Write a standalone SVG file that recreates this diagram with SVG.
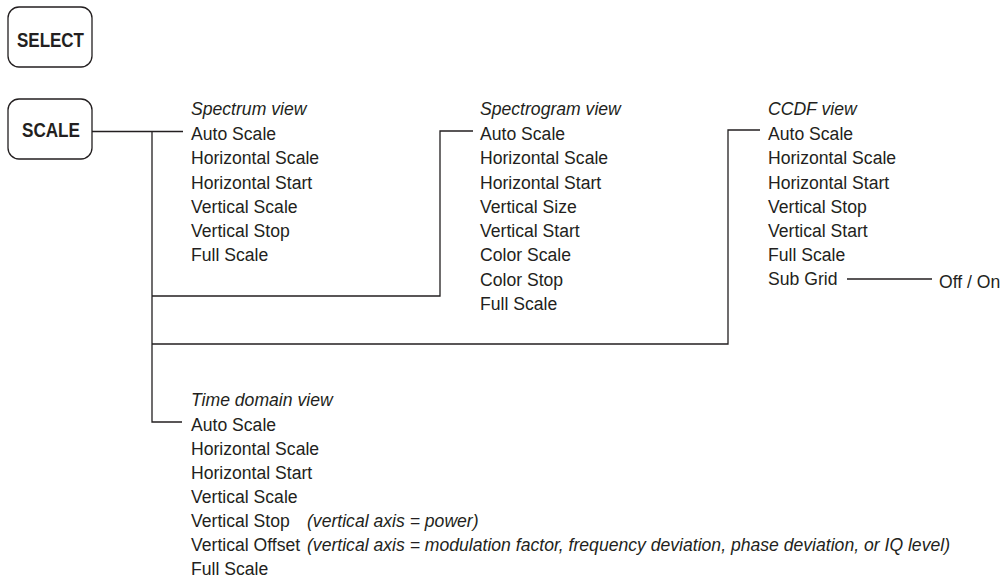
<svg xmlns="http://www.w3.org/2000/svg" width="1000" height="579" viewBox="0 0 1000 579">
<style>
.t{font-family:"Liberation Sans",Arial,sans-serif;font-size:17.6px;fill:#231f20}
.i{font-style:italic}
.b{font-family:"Liberation Sans",Arial,sans-serif;font-weight:bold;font-size:21px;fill:#231f20}
.box{fill:#fff;stroke:#231f20;stroke-width:1.3}
.c{fill:none;stroke:#231f20;stroke-width:1.3}
</style>
<rect width="1000" height="579" fill="#fff"/>
<g id="select"><rect class="box" x="8" y="7" width="84" height="60" rx="11"/><text class="b" x="17" y="47" textLength="67" lengthAdjust="spacingAndGlyphs">SELECT</text></g>
<g id="scale"><rect class="box" x="8" y="99" width="84" height="60" rx="11"/><text class="b" x="22" y="137" textLength="58" lengthAdjust="spacingAndGlyphs">SCALE</text></g>
<g id="connectors">
<path class="c" d="M92,131.5 H183 M152,131.5 V422 H182 M152,296 H440 V131 H473 M152,344 H728 V130 H760 M847,279 H932"/>
</g>
<g id="spectrum">
<text class="t i" x="191" y="115">Spectrum view</text>
<text class="t" x="191" y="140">Auto Scale</text>
<text class="t" x="191" y="164">Horizontal Scale</text>
<text class="t" x="191" y="189">Horizontal Start</text>
<text class="t" x="191" y="213">Vertical Scale</text>
<text class="t" x="191" y="237">Vertical Stop</text>
<text class="t" x="191" y="261">Full Scale</text>
</g>
<g id="spectrogram">
<text class="t i" x="480" y="115">Spectrogram view</text>
<text class="t" x="480" y="140">Auto Scale</text>
<text class="t" x="480" y="164">Horizontal Scale</text>
<text class="t" x="480" y="189">Horizontal Start</text>
<text class="t" x="480" y="213">Vertical Size</text>
<text class="t" x="480" y="237">Vertical Start</text>
<text class="t" x="480" y="261">Color Scale</text>
<text class="t" x="480" y="286">Color Stop</text>
<text class="t" x="480" y="310">Full Scale</text>
</g>
<g id="ccdf">
<text class="t i" x="768" y="115">CCDF view</text>
<text class="t" x="768" y="140">Auto Scale</text>
<text class="t" x="768" y="164">Horizontal Scale</text>
<text class="t" x="768" y="189">Horizontal Start</text>
<text class="t" x="768" y="213">Vertical Stop</text>
<text class="t" x="768" y="237">Vertical Start</text>
<text class="t" x="768" y="261">Full Scale</text>
<text class="t" x="768" y="285">Sub Grid</text>
</g>
<g id="offon"><text class="t" x="939" y="288">Off / On</text></g>
<g id="timedomain">
<text class="t i" x="191" y="406">Time domain view</text>
<text class="t" x="191" y="431">Auto Scale</text>
<text class="t" x="191" y="455">Horizontal Scale</text>
<text class="t" x="191" y="479">Horizontal Start</text>
<text class="t" x="191" y="503">Vertical Scale</text>
<text class="t" x="191" y="527">Vertical Stop</text>
<text class="t i" x="307" y="527">(vertical axis = power)</text>
<text class="t" x="191" y="551">Vertical Offset</text>
<text class="t i" x="307" y="551">(vertical axis = modulation factor, frequency deviation, phase deviation, or IQ level)</text>
<text class="t" x="191" y="575">Full Scale</text>
</g>
</svg>
